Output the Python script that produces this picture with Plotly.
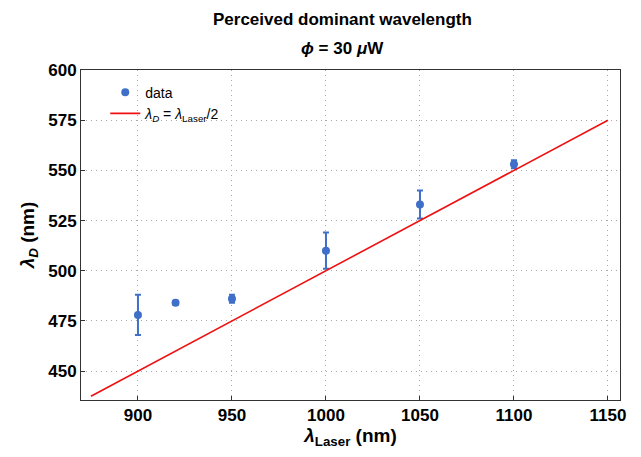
import plotly.graph_objects as go

laser_nm = [900, 920, 950, 1000, 1050, 1100]
dominant_nm = [478, 484, 486, 510, 533, 553]
dominant_err = [10, 1, 2, 9, 7, 2]
line_x = [875, 1150]
line_y = [x / 2 for x in line_x]

x_ticks = [900, 950, 1000, 1050, 1100, 1150]
y_ticks = [450, 475, 500, 525, 550, 575, 600]

font = "Liberation Sans, Arial, sans-serif"
blue = "#3f6fc8"

# page body has an 8px margin; margins below compensate for it
ML, MR, MT, MB = 73, 29, 62, 65
W, H = 641, 457
plot_w = W - ML - MR
plot_h = H - MT - MB

fig = go.Figure()
fig.add_trace(go.Scatter(
    x=laser_nm, y=dominant_nm, mode="markers", name="data",
    marker=dict(color=blue, size=8),
    error_y=dict(type="data", array=dominant_err, color=blue, thickness=2, width=3),
))
fig.add_trace(go.Scatter(
    x=line_x, y=line_y, mode="lines",
    name="<i>λ</i><sub><i>D</i></sub> = <i>λ</i><sub>Laser</sub>/2",
    line=dict(color="#ee1111", width=1.6),
))

axis_common = dict(
    showline=True, linecolor="#333", linewidth=1, mirror=True,
    ticks="inside", ticklen=4, tickcolor="#333",
    showgrid=True, gridcolor="#a8a8a8", griddash="1px,4px", gridwidth=1,
    zeroline=False, automargin=False,
    tickfont=dict(family=font, size=17, color="black"),
)
fig.update_xaxes(range=[869.7, 1156.4], tickvals=x_ticks,
                 ticktext=[f"<b>{v}</b>" for v in x_ticks],
                 title=dict(text="<b><i>λ</i><sub>Laser</sub> (nm)</b>",
                            font=dict(family=font, size=19, color="black"), standoff=1),
                 **axis_common)
fig.update_yaxes(range=[435.6, 600], tickvals=y_ticks,
                 ticktext=[f"<b>{v}</b>" for v in y_ticks],
                 title=dict(text="<b><i>λ</i><sub><i>D</i></sub> (nm)</b>",
                            font=dict(family=font, size=19, color="black"), standoff=8),
                 **axis_common)

title_x = (334 - ML) / plot_w
fig.update_layout(
    width=W, height=H,
    margin=dict(l=ML, r=MR, t=MT, b=MB),
    paper_bgcolor="white", plot_bgcolor="white",
    showlegend=True,
    legend=dict(x=0.045, y=0.98, xanchor="left", yanchor="top",
                bgcolor="rgba(0,0,0,0)",
                font=dict(family=font, size=14, color="black"),
                itemwidth=30, tracegroupgap=0),
    annotations=[
        dict(text="<b>Perceived dominant wavelength</b>", x=title_x,
             y=1 + (MT - 12) / plot_h, xref="paper", yref="paper",
             yanchor="middle", showarrow=False,
             font=dict(family=font, size=17, color="black")),
        dict(text="<b><i>ϕ</i> = 30 <i>μ</i>W</b>", x=title_x,
             y=1 + (MT - 40) / plot_h, xref="paper", yref="paper",
             yanchor="middle", showarrow=False,
             font=dict(family=font, size=17, color="black")),
    ],
)
fig.write_html("out.html")
